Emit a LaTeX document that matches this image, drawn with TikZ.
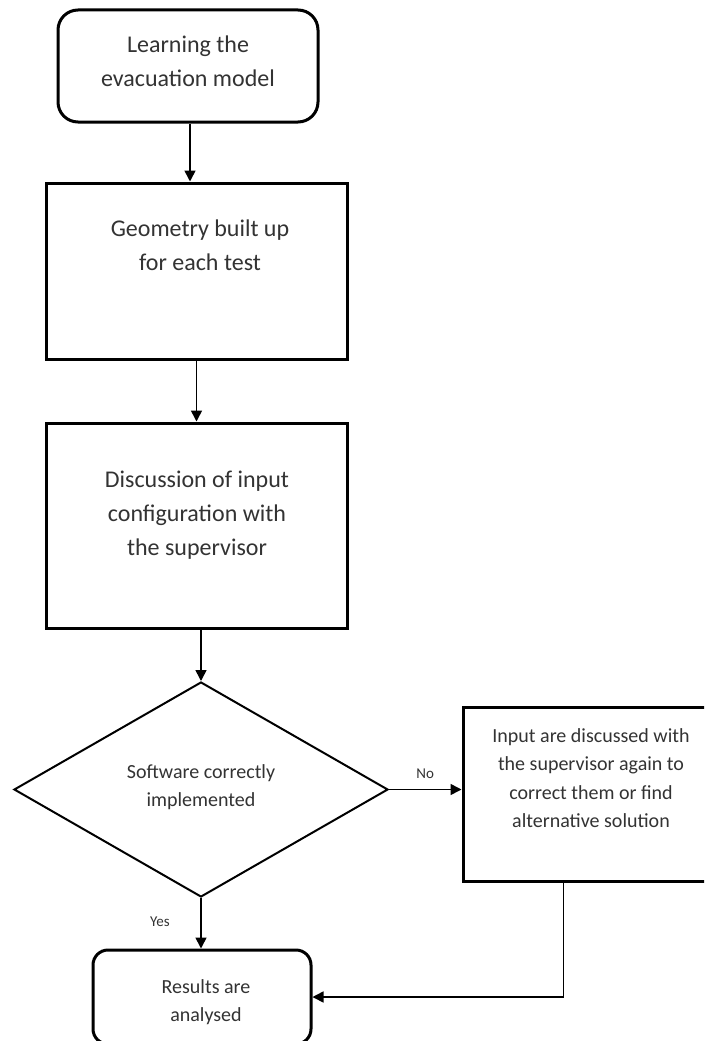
\documentclass[tikz,border=0pt]{standalone}
\usepackage{fontspec}
\setmainfont{Carlito}
\usetikzlibrary{shapes.geometric,arrows.meta,calc}
\begin{document}
\begin{tikzpicture}[x=1pt,y=-1pt,
  boxbase/.style={draw=black,line width=3pt,inner sep=0pt,fill=none},
  plainbox/.style={boxbase,rectangle},
  roundbox/.style={boxbase,rectangle,rounded corners=#1},
  dec/.style={draw=black,line width=2pt,diamond,inner sep=0pt},
  bigtxt/.style={align=center,text=black!80,font=\fontsize{24}{34}\selectfont,inner sep=0pt},
  smalltxt/.style={align=center,text=black!80,font=\fontsize{20}{28.5}\selectfont,inner sep=0pt},
  lbl/.style={text=black!80,font=\fontsize{15}{18}\selectfont,inner sep=0pt},
  conn/.style={draw=black,line width=1.6pt,-{Triangle[length=11pt,width=11pt]}},
  link/.style={draw=black,line width=1.6pt}]
\clip (0,0) rectangle (704,1041);
\useasboundingbox (0,0) rectangle (704,1041);
\fill[white] (0,0) rectangle (704,1041);

\node[roundbox=20pt,minimum width=260pt,minimum height=112pt] (b1) at (188,66) {};
\node[plainbox,minimum width=301pt,minimum height=176pt] (b2) at (196.5,271) {};
\node[plainbox,minimum width=301pt,minimum height=205pt] (b3) at (196.5,525.5) {};
\node[dec,minimum width=374pt,minimum height=215pt] (d) at (201,789.5) {};
\node[plainbox,minimum width=257pt,minimum height=174pt] (b4) at (591.5,794) {};
\node[roundbox=15pt,minimum width=218pt,minimum height=94pt] (b5) at (202,997) {};

\node[bigtxt] (t1) at (188,61) {Learning the\\evacuation model};
\node[bigtxt] (t2) at (200,245) {Geometry built up\\for each test};
\node[bigtxt] (t3) at (197,515) {Discussion of input\\configuration with\\the supervisor};
\node[smalltxt] (td) at (201,787) {Software correctly\\implemented};
\node[smalltxt] (t4) at (591,778) {Input are discussed with\\the supervisor again to\\correct them or find\\alternative solution};
\node[smalltxt] (t5) at (206,1002) {Results are\\analysed};

\draw[conn] (b1.south -| 190,0) -- (b2.north -| 190,0);
\draw[conn] (b2.south) -- (b3.north);
\draw[conn] (b3.south -| d.north) -- (d.north);
\draw[conn] (d.east) -- node[lbl,above=10pt] (no) {No} (d.east -| b4.west);
\draw[conn] (d.south) -- (d.south |- b5.north);
\node[lbl] (yes) at (160,922) {Yes};
\coordinate (c4) at ($(b4.south west)+(102,0)$);
\draw[conn] (c4) |- (b5.east);
\end{tikzpicture}
\end{document}
